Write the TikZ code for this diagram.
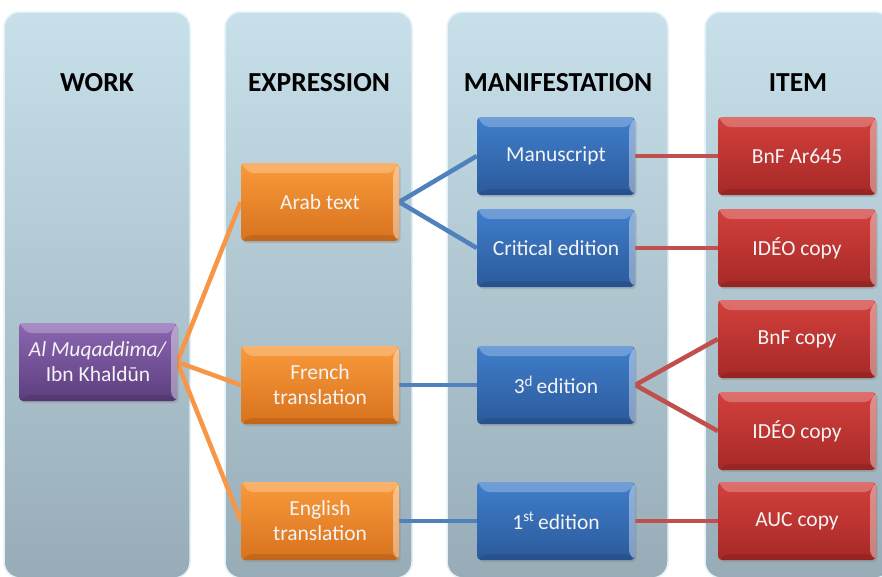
\documentclass[tikz,border=0pt]{standalone}
\usepackage{fontspec}
\setmainfont{Carlito}
\usetikzlibrary{shadows}
\pgfdeclarelayer{bg}
\pgfdeclarelayer{lines}
\pgfsetlayers{bg,lines,main}
\definecolor{lnorange}{HTML}{F79646}
\definecolor{lnblue}{HTML}{4F81BD}
\definecolor{lnred}{HTML}{C0504D}
\definecolor{ortop}{HTML}{F99A3A}
\definecolor{orbot}{HTML}{D8721E}
\definecolor{bltop}{HTML}{3F7ECC}
\definecolor{blbot}{HTML}{2C5A9B}
\definecolor{rdtop}{HTML}{D3403C}
\definecolor{rdbot}{HTML}{A62927}
\definecolor{pptop}{HTML}{8C66B2}
\definecolor{ppbot}{HTML}{5C3E7E}
\definecolor{pantop}{HTML}{C7E0EA}
\definecolor{panbot}{HTML}{97ACB6}
\definecolor{panrim}{HTML}{E2F1F8}
\definecolor{boxtext}{HTML}{F4F4F4}
\tikzset{
  panel/.style={rounded corners=16pt, top color=pantop, bottom color=panbot,
    draw=panrim, line width=1.5pt, minimum height=566pt, inner sep=0pt},
  header/.style={font=\fontsize{27.5}{32}\bfseries\selectfont, text=black},
  box/.style={rounded corners=4pt, minimum width=158pt, minimum height=78pt,
    text=boxtext, font=\fontsize{21.5}{25}\selectfont, align=center, inner sep=2pt,
    drop shadow={shadow xshift=1.5pt, shadow yshift=-2pt, opacity=0.3},
    path picture={
      \fill[white,opacity=0.25] (path picture bounding box.north west) -- (path picture bounding box.north east)
        -- ([xshift=-7pt,yshift=-10pt]path picture bounding box.north east)
        -- ([xshift=8pt,yshift=-10pt]path picture bounding box.north west) -- cycle;
      \fill[white,opacity=0.4] (path picture bounding box.north east) -- (path picture bounding box.south east)
        -- ([xshift=-6pt,yshift=6pt]path picture bounding box.south east)
        -- ([xshift=-6pt,yshift=-10pt]path picture bounding box.north east) -- cycle;
      \fill[black,opacity=0.1] (path picture bounding box.south west) -- (path picture bounding box.south east)
        -- ([xshift=-6pt,yshift=6pt]path picture bounding box.south east)
        -- ([xshift=8pt,yshift=6pt]path picture bounding box.south west) -- cycle;
    }},
  orbox/.style={box, top color=ortop, bottom color=orbot},
  blbox/.style={box, top color=bltop, bottom color=blbot},
  rdbox/.style={box, top color=rdtop, bottom color=rdbot},
  ppbox/.style={box, top color=pptop, bottom color=ppbot},
  conn/.style={line width=4.5pt},
}
\begin{document}
\begin{tikzpicture}[x=1pt,y=-1pt]
\useasboundingbox (0,0) rectangle (882,576);
\clip (0,0) rectangle (882,576);

\begin{pgfonlayer}{bg}
\fill[white] (0,0) rectangle (882,576);
\node[panel, minimum width=186pt] (pwork) at (97,295) {};
\node[panel, minimum width=187pt] (pexpr) at (318.5,295) {};
\node[panel, minimum width=221pt] (pmani) at (557.5,295) {};
\node[panel, minimum width=186pt] (pitem) at (798,295) {};
\end{pgfonlayer}

\node[header] (hwork) at (97,83) {WORK};
\node[header] (hexpr) at (319,83) {EXPRESSION};
\node[header] (hmani) at (558,83) {MANIFESTATION};
\node[header] (hitem) at (798,83) {ITEM};

\node[ppbox] (work) at (98,362) {\textit{Al Muqaddima/}\\Ibn Khaldūn};

\node[orbox] (arab) at (320,202) {Arab text};
\node[orbox] (french) at (320,385) {French\\translation};
\node[orbox] (english) at (320,521) {English\\translation};

\node[blbox] (manu) at (556,156) {Manuscript};
\node[blbox] (crit) at (556,248) {Critical edition};
\node[blbox] (third) at (556,385) {3\textsuperscript{d}\,edition};
\node[blbox] (first) at (556,521) {1\textsuperscript{st}\,edition};

\node[rdbox] (bnfar) at (797,156) {BnF Ar645};
\node[rdbox] (ideo1) at (797,248) {IDÉO copy};
\node[rdbox] (bnfc) at (797,339) {BnF copy};
\node[rdbox] (ideo2) at (797,431) {IDÉO copy};
\node[rdbox] (auc) at (797,521) {AUC copy};

\begin{pgfonlayer}{lines}
\draw[conn, lnorange] (work.east) -- (arab.west);
\draw[conn, lnorange] (work.east) -- (french.west);
\draw[conn, lnorange] (work.east) -- (english.west);
\draw[conn, lnblue] (arab.east) -- (manu.west);
\draw[conn, lnblue] (arab.east) -- (crit.west);
\draw[conn, lnblue] (french.east) -- (third.west);
\draw[conn, lnblue] (english.east) -- (first.west);
\draw[conn, lnred] (manu.east) -- (bnfar.west);
\draw[conn, lnred] (crit.east) -- (ideo1.west);
\draw[conn, lnred] (third.east) -- (bnfc.west);
\draw[conn, lnred] (third.east) -- (ideo2.west);
\draw[conn, lnred] (first.east) -- (auc.west);
\end{pgfonlayer}
\end{tikzpicture}
\end{document}
